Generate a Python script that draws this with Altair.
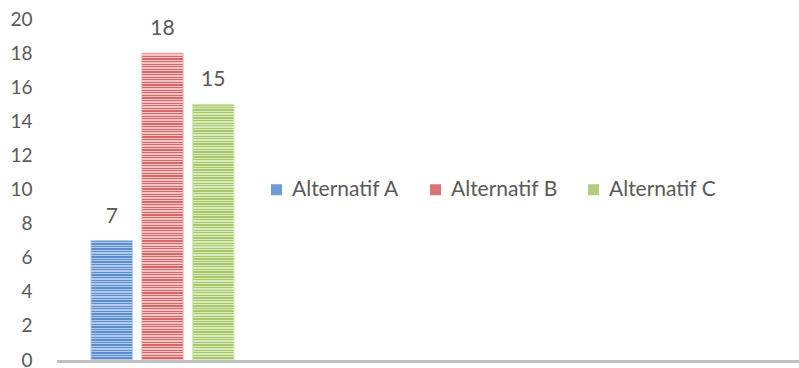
import altair as alt
import pandas as pd

series = ["Alternatif A", "Alternatif B", "Alternatif C"]
values = [7, 18, 15]
dark = ["#5b8ccc", "#d3686a", "#a6c86a"]
light = ["#b2cbec", "#f3c2c2", "#d9eabc"]
base = ["#6f9bd6", "#d97577", "#b0cf7c"]

df = pd.DataFrame({"series": series, "value": values})

FONT = "Lato"
TXT = "#595959"

x_scale = alt.Scale(domain=series, range=[34, 177], paddingInner=0.18, paddingOuter=0)
y_scale = alt.Scale(domain=[0, 20])
y_axis = alt.Axis(values=list(range(0, 21, 2)), title=None, domain=False,
                  ticks=False, grid=False, labelFont=FONT, labelFontSize=19,
                  labelColor=TXT, labelPadding=25, labelOverlap=False,
                  labelBound=False, labelFlush=False)

def stripes(i, v):
    n = max(1, round(v * 17.05 / 2.6))
    stops = []
    for k in range(n):
        a = k / n
        m = (k + 0.5) / n
        b = (k + 1) / n
        stops += [
            {"offset": a, "color": dark[i]},
            {"offset": m, "color": dark[i]},
            {"offset": m, "color": light[i]},
            {"offset": b, "color": light[i]},
        ]
    return alt.Gradient(gradient="linear", stops=stops, x1=0, x2=0, y1=0, y2=1)

layers = []
for i, (s, v) in enumerate(zip(series, values)):
    layers.append(
        alt.Chart(df).transform_filter(alt.datum.series == s).mark_bar(
            fill=stripes(i, v), stroke=light[i], strokeWidth=1
        ).encode(
            x=alt.X("series:N", scale=x_scale, axis=None),
            y=alt.Y("value:Q", scale=y_scale, axis=y_axis),
        )
    )

legend_layer = alt.Chart(df).mark_square(size=0, opacity=1, filled=True).encode(
    color=alt.Color("series:N", scale=alt.Scale(domain=series, range=base),
                    legend=alt.Legend(title=None, orient="none", direction="horizontal",
                                      legendX=209, legendY=160, symbolType="square",
                                      symbolSize=121, symbolOpacity=1, symbolStrokeWidth=0,
                                      labelFont=FONT, labelFontSize=21, labelColor=TXT,
                                      columnPadding=25, labelOffset=5)),
    x=alt.X("series:N", scale=x_scale, axis=None),
    y=alt.Y("value:Q", scale=y_scale, axis=y_axis),
)

labels = alt.Chart(df).mark_text(font=FONT, fontSize=21, color=TXT, dy=-18,
                                 baseline="alphabetic").encode(
    x=alt.X("series:N", scale=x_scale, bandPosition=0.5, axis=None),
    y=alt.Y("value:Q", scale=y_scale, axis=y_axis),
    text="value:Q",
)

axis_line = alt.Chart(df).mark_rule(color="#bfbfbf", strokeWidth=2.5).encode(
    x=alt.value(0), x2=alt.value(742), y=alt.value(342.5)
)

chart = alt.layer(*layers, legend_layer, labels, axis_line).properties(
    width=742, height=341,
    background="white",
    autosize=alt.AutoSizeParams(type="none"),
    padding={"left": 57, "top": 19, "right": 0, "bottom": 8},
).configure_view(strokeWidth=0, stroke="transparent")

chart.save("out.html", embed_options={"renderer": "svg", "actions": False})
